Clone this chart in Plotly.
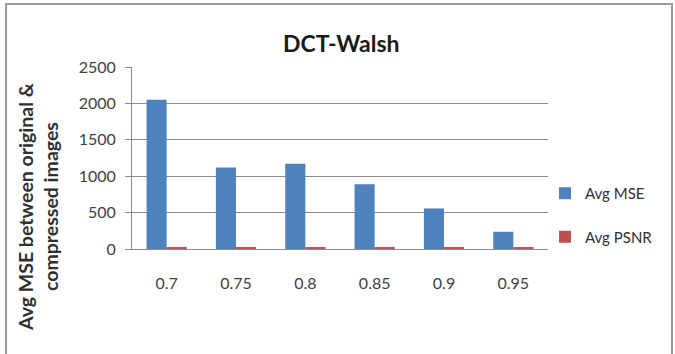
import plotly.graph_objects as go

# Compression ratios on the x axis
ratios = ["0.7", "0.75", "0.8", "0.85", "0.9", "0.95"]
# Average mean squared error between original and compressed images
avg_mse = [2050, 1120, 1170, 890, 557, 237]
# Average peak signal-to-noise ratio (dB)
avg_psnr = [21, 22, 22, 23, 24, 26]
y_ticks = [0, 500, 1000, 1500, 2000, 2500]

BLUE = "#4F81BD"
RED = "#C0504D"
FONT = "Lato, 'Open Sans', sans-serif"

# plot-area geometry in pixels (used to place frame/labels in paper units)
W, H = 675, 354
L, R, T, B = 132, 548, 67, 249
pw, ph = R - L, B - T


def px_x(p):
    return (p - L) / pw


def px_y(p):
    return (B - p) / ph


fig = go.Figure()
fig.add_trace(go.Bar(x=ratios, y=avg_mse, name="Avg MSE", marker_color=BLUE,
                     marker_line_width=0, legendgroup="a"))
fig.add_trace(go.Bar(x=ratios, y=avg_psnr, name="Avg PSNR", marker_color=RED,
                     marker_line_width=0, legendgroup="b"))

fig.update_layout(
    width=W, height=H,
    margin=dict(l=L, r=W - R, t=T, b=H - B, autoexpand=False),
    paper_bgcolor="white", plot_bgcolor="white",
    barmode="group", bargap=0.42, bargroupgap=0,
    font=dict(family=FONT, color="#404040", size=16),
    showlegend=True,
    legend=dict(x=px_x(545), y=px_y(177), xanchor="left", yanchor="top",
                font=dict(size=15, color="#303030"),
                traceorder="grouped", tracegroupgap=21,
                itemwidth=30, bgcolor="rgba(0,0,0,0)"),
    annotations=[
        dict(text="<b>DCT-Walsh</b>", x=px_x(341), y=px_y(43), xref="paper", yref="paper",
             showarrow=False, font=dict(size=23, color="#1a1a1a", family=FONT),
             xanchor="center", yanchor="middle"),
        dict(text="<b>Avg MSE between original &</b>", x=px_x(25), y=px_y(207),
             xref="paper", yref="paper", showarrow=False, textangle=-90,
             font=dict(size=19.5, color="#303030", family=FONT),
             xanchor="center", yanchor="middle"),
        dict(text="<b>compressed images</b>", x=px_x(50), y=px_y(207),
             xref="paper", yref="paper", showarrow=False, textangle=-90,
             font=dict(size=19.5, color="#303030", family=FONT),
             xanchor="center", yanchor="middle"),
    ],
    shapes=[
        dict(type="rect", xref="paper", yref="paper",
             x0=px_x(6), x1=px_x(672), y0=px_y(360), y1=px_y(4),
             line=dict(color="#9a9a9a", width=2), layer="below"),
    ],
)

fig.update_xaxes(showline=True, linecolor="#8c8c8c", linewidth=1,
                 showgrid=False, ticks="", ticklabelstandoff=20,
                 tickfont=dict(size=16, color="#404040"))
fig.update_yaxes(range=[0, 2500], tickvals=y_ticks, showgrid=True,
                 gridcolor="#8c8c8c", gridwidth=1, zeroline=False,
                 showline=True, linecolor="#8c8c8c", linewidth=1,
                 ticks="outside", ticklen=6, tickcolor="#8c8c8c",
                 ticklabelstandoff=6,
                 tickfont=dict(size=16, color="#404040"))

fig.write_html("out.html")
